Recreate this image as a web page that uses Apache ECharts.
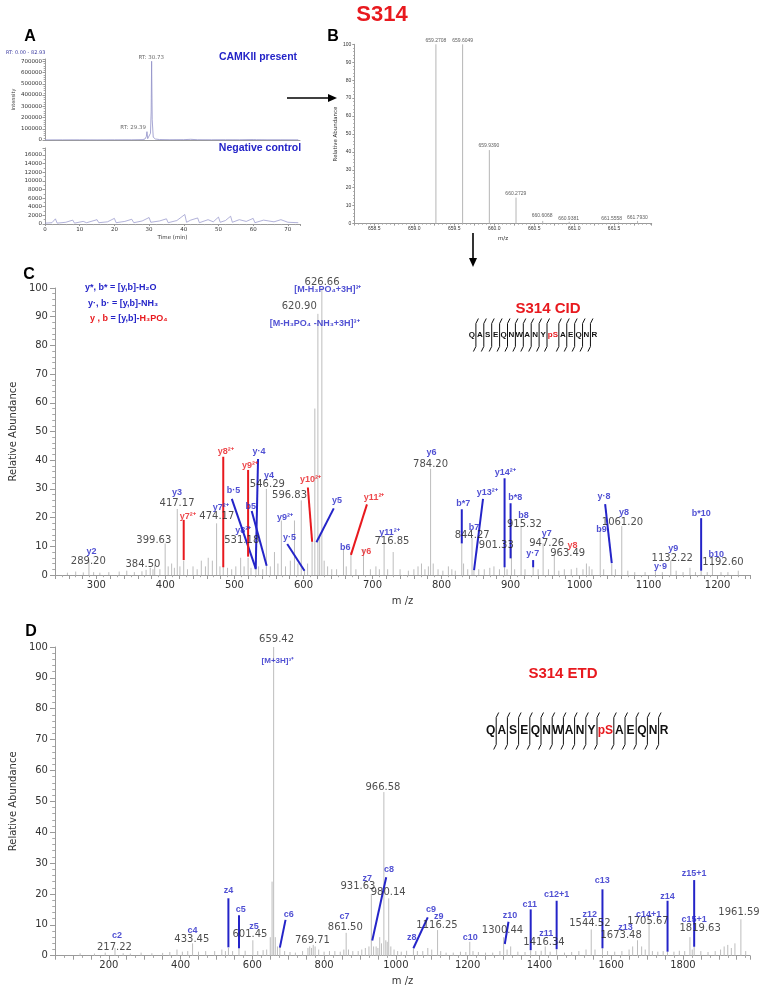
<!DOCTYPE html>
<html><head><meta charset="utf-8">
<script src="https://cdn.jsdelivr.net/npm/echarts@6/dist/echarts.min.js"></script>
<style>html,body{margin:0;padding:0;background:#fff}#c{width:766px;height:988px}</style>
</head><body><div id="c"></div>
<script>
// ---------- DATA ----------
// Panel A: extracted ion chromatograms
const camkTime = [0,5,10,15,20,25,28,28.8,29.2,29.39,29.6,30.0,30.4,30.6,30.73,30.9,31.2,31.8,33,36,40,42,44,48,52,56,60,60.5,61,64,68,73];
const camkInt  = [800,1200,1500,1000,1400,1800,3000,8000,30000,74000,12000,9000,60000,250000,700000,180000,25000,9000,4000,2500,3000,6000,2500,2000,2500,2000,4000,7000,3000,2000,2000,1500];
const negTime = [0,2,3,3.5,6,8,8.5,11,12,15,15.5,18,20,20.5,23,25,25.6,28,30,30.5,33,35,35.5,38,40.3,40.8,42,44,44.5,47,48.5,50,50.5,52,53.5,54,56,58,60,60.5,63,66,68,70,73];
const negInt  = [200,300,1200,200,400,900,200,600,300,1000,300,500,1300,300,600,1100,300,700,1500,400,700,1200,300,800,2200,400,900,1400,300,1000,500,1600,400,800,1800,400,1000,600,1300,300,900,500,1000,400,300];
const rtLabels = [["RT: 30.73",30.6,731000],["RT: 29.39",25.4,109000]];

// Panel B: full MS isotope envelope
const msPeaks = [[658.62,0.3],[658.95,0.3],[659.2708,100],[659.6049,100],[659.939,41],[660.2729,14.5],[660.6068,1.5],[660.9381,1],[661.25,0.3],[661.5558,0.6],[661.793,1.5]];
const msLabels = [["659.2708",659.27,101.8],["659.6049",659.605,101.8],["659.9390",659.934,43.3],["660.2729",660.27,16.5],["660.6068",660.60,4.2],["660.9381",660.93,3.0],["661.5558",661.47,2.7],["661.7930",661.79,3.5]];

// Panel C: CID MS/MS
const cidPeaks = [[258,0.8],[270,1.2],[281,0.9],[289.2,5],[296,1],[305,0.8],[318,1],[333,1.2],[344,1.5],[355,1],[366,1.3],[372,1.8],[378,2.5],[382,2],[384.5,3.5],[392,2],[399.63,11],[404,3],[409,4],[413,2.5],[417.17,23],[421,3],[426.5,5],[432,2],[440,3],[446,2],[452,5],[458,3],[462,6],[468,5],[474.17,18],[479,3],[483.8,3],[490,2.5],[496,2],[502,3],[509,6],[514,3],[519.8,6],[524,2.5],[531.18,10],[535,3],[541,2],[546.29,30],[552,3],[558,8],[563,4],[568,19],[574,3],[581,5],[587,19],[592,4],[596.83,26],[601.5,2],[606,4],[612.5,12],[616.5,58],[620.9,91],[623.5,14],[626.66,100],[630,5],[635,3],[641,2],[648,2],[658,9],[662,3],[668.8,8],[676,2],[687,9],[697,2],[705,3],[710,2],[716.85,11],[722,2],[730,8],[740,2],[752,1.5],[760,2],[766,3],[771,4],[776,2],[781,3],[784.2,37],[788,4],[795,2],[802,1.5],[810,3],[815,2],[820,1.5],[829.4,11],[832,4],[838,2],[844.27,13],[847,2],[854,2],[862,2],[870,2.5],[876,3],[884,2],[891.4,3],[895,2],[901.33,10],[906,2],[915.32,17],[921,2],[932.8,3],[940,2],[947.26,11],[955,2],[963.49,7],[970,1.5],[978,2],[988,2],[996,2.5],[1005,2],[1010,4],[1014,3],[1018,2],[1030,16],[1035,2],[1046.7,4],[1052,2],[1061.2,17],[1070,1.5],[1080,1],[1095,1],[1110,1.5],[1120,1],[1132.22,5],[1140,1.5],[1150,1],[1160,2.5],[1168,1],[1176.2,1.5],[1185,1],[1192.6,4],[1205,1],[1215,1],[1230,1.5]];
const cidMassLabels = [["289.20",288.3,4.6],["384.50",367.4,3.7],["399.63",383.2,12.1],["417.17",416.8,25.0],["474.17",474.5,20.3],["531.18",510.6,11.9],["546.29",547.7,31.6],["596.83",579.8,27.6],["620.90",593.9,93.5],["626.66",627.0,102.0],["716.85",728.2,11.8],["784.20",784.2,38.6],["844.27",844.4,13.7],["901.33",879.4,10.2],["915.32",920.2,17.7],["947.26",952.5,11.0],["963.49",982.8,7.6],["1061.20",1062.2,18.4],["1132.22",1134.3,5.8],["1192.60",1207.8,4.3]];
const cidPrecLabels = [["[M-H₃PO₄+3H]³⁺",635.4,99.3],["[M-H₃PO₄ -NH₃+3H]³⁺",616.2,87.5]];
const cidBlueIons = [["y2",292.8,8.1],["y3",416.8,28.8],["y·4",535.7,43.0],["y4",550.1,34.6],["b·5",498.6,29.3],["y7²⁺",480.3,23.4],["b5",523.6,24.0],["y8²⁺",512.6,15.4],["y9²⁺",573.2,20.0],["y·5",579.8,13.1],["y5",648.6,25.8],["b6",660.6,9.5],["y11²⁺",724.6,14.9],["y6",785.6,42.8],["b*7",831.4,25.0],["y13²⁺",866.4,28.8],["b7",847.2,16.6],["y14²⁺",892.4,35.6],["b*8",906.8,26.9],["b8",918.8,20.6],["y7",952.5,14.5],["y·7",932.3,7.6],["y·8",1035.6,27.3],["b9",1031.9,16.0],["y8",1064.5,21.7],["b*10",1176.5,21.5],["y9",1135.7,9.3],["y·9",1117.4,3.1],["b10",1198.2,7.0]];
const cidRedIons = [["y7²⁺",432.3,20.3],["y8²⁺",487.5,43.2],["y9²⁺",522.7,38.0],["y10²⁺",610.1,33.1],["y11²⁺",702.4,27.1],["y6",690.9,8.1],["y8",990.0,10.1]];
// pointer lines: [mzStart, abStart, mzEnd, abEnd]
const cidBlueLines = [[534.2,40.4,530.8,2.0],[496.2,26.5,530.8,2.3],[525.0,22.3,546.7,3.2],[576.5,10.8,601.5,1.5],[643.9,23.2,618.8,11.4],[829.4,22.9,829.4,11.0],[860.2,26.5,847.2,1.7],[891.4,33.7,891.4,2.7],[900.1,25.0,900.1,5.8],[932.8,5.2,932.8,2.7],[1037.1,24.7,1046.7,4.1],[1176.2,19.8,1176.2,1.5]];
const cidRedLines = [[426.5,19.2,426.5,5.2],[483.8,41.2,483.8,2.7],[519.8,36.6,519.8,6.4],[606.4,30.5,612.6,11.6],[692.0,24.6,668.8,7.0]];

// Panel D: ETD MS/MS
const etdPeaks = [[120,0.8],[160,0.7],[190,1],[217.22,2.5],[240,0.8],[260,0.7],[290,1],[320,0.8],[350,0.9],[370,1.2],[390,2],[405,1.3],[420,1.5],[433.45,4],[450,1.3],[470,1.5],[495,1.5],[515,2],[525,1.5],[533.4,2.5],[545,1.5],[562.8,2.4],[580,1.6],[601.45,5],[615,1.5],[630,1.8],[640,2],[650,6],[655,24],[659.42,100],[664,6],[670,3],[676.7,2.6],[690,1.5],[705,1.2],[720,1],[740,1.5],[755,2.5],[760,3],[765,2.5],[769.71,3.5],[775,3],[785,2],[800,1.3],[815,1.5],[830,1.5],[845,1.3],[855,2],[861.5,7.4],[868,2],[880,1.5],[895,1.5],[905,2],[915,2.5],[925,3],[931.63,20],[938,3],[945,3],[950,2.5],[955,6],[960,4],[966.58,53],[972,5],[976,4.5],[980.14,18.6],[986,3],[995,2],[1005,1.5],[1015,1.3],[1030,1.6],[1049,2.4],[1060,1.5],[1075,1.5],[1089,2.5],[1100,2],[1116.25,8.3],[1125,1.5],[1140,1],[1160,1],[1180,1.3],[1195,1.2],[1206,4.5],[1215,1.5],[1230,1.2],[1250,1],[1270,1],[1290,1.5],[1300.44,6],[1310,2],[1320,3],[1340,1.3],[1360,1.2],[1375.8,1.8],[1390,1.5],[1405,1.6],[1416.34,3],[1430,1.3],[1448,2],[1470,1],[1490,1.2],[1510,1.5],[1530,2],[1544.52,8.5],[1555,2],[1575.8,2.4],[1590,1.5],[1610,1.3],[1630,1.5],[1650,2],[1660,3],[1673.48,5],[1685,3],[1695,2],[1705.67,11.3],[1715,1.5],[1730,1.3],[1745,1.5],[1757,1.3],[1775,1.3],[1790,1.6],[1805,1.5],[1819.63,6],[1826,2],[1831.4,2.9],[1850,1.5],[1870,1.2],[1890,1.5],[1905,2],[1915,3],[1925,3.5],[1935,2.5],[1945,4],[1961.59,11.8],[1975,1.5]];
const etdMassLabels = [["217.22",215.6,2.6],["433.45",431.4,5.3],["601.45",593.3,7.0],["659.42",667.5,102.3],["769.71",767.5,5.1],["861.50",859.2,9.1],["931.63",894.4,22.4],["966.58",963.9,54.4],["980.14",978.6,20.4],["1116.25",1114.7,9.9],["1300.44",1297.2,8.3],["1416.34",1412.8,4.3],["1544.52",1540.6,10.4],["1673.48",1627.8,6.5],["1705.67",1702.8,11.0],["1819.63",1848.1,8.9],["1961.59",1956.4,13.9]];
const etdPrecLabels = [["[M+3H]³⁺",671.1,95.5]];
const etdIons = [["c2",223.1,6.4],["c4",433.3,8.1],["z4",533.3,21.0],["c5",567.5,15.0],["z5",604.4,9.4],["c6",701.7,13.4],["c7",857.2,12.6],["z7",920.3,25.1],["c8",980.6,27.8],["z8",1044.4,6.0],["c9",1098.1,14.8],["z9",1119.4,12.6],["c10",1207.2,5.8],["z10",1318.3,12.9],["c11",1373.1,16.7],["z11",1419.4,7.3],["c12+1",1448.1,19.9],["z12",1540.6,13.2],["c13",1575.0,24.2],["z13",1639.7,9.1],["c14+1",1704.4,13.5],["z14",1757.2,19.3],["z15+1",1831.4,26.7],["c15+1",1831.4,11.6]];
const etdLines = [[533.3,18.6,533.3,2.7],[562.8,13.1,562.8,2.4],[692.5,11.6,676.7,2.6],[973.1,25.4,934.2,4.9],[1088.9,12.4,1048.9,2.4],[1313.9,11.0,1303.6,3.8],[1375.8,15.0,1375.8,1.8],[1448.1,17.8,1448.1,2.1],[1575.8,21.5,1575.8,2.4],[1757.2,17.8,1757.2,1.3],[1831.4,24.5,1831.4,2.9]];

const seqResidues = ["Q","A","S","E","Q","N","W","A","N","Y","pS","A","E","Q","N","R"];

// ---------- STYLE ----------
const BLUE = '#2424c8', RED = '#e8191e', GREY = '#bdbdbd', FONT = '"Liberation Sans", Arial, sans-serif';

function stickSeries(i, data, color, w) {
  return {type:'custom', xAxisIndex:i, yAxisIndex:i, data, silent:true, clip:false,
    renderItem(p, api) {
      const a = api.coord([api.value(0), 0]), b = api.coord([api.value(0), api.value(1)]);
      return {type:'line', shape:{x1:a[0],y1:a[1],x2:b[0],y2:b[1]}, style:{stroke:color, lineWidth:w||1}};
    }};
}
function pointerSeries(i, data, color) {
  return {type:'custom', xAxisIndex:i, yAxisIndex:i, data, silent:true, clip:false,
    encode:{x:[0,2], y:[1,3]},
    renderItem(p, api) {
      const a = api.coord([api.value(0), api.value(1)]), b = api.coord([api.value(2), api.value(3)]);
      return {type:'line', shape:{x1:a[0],y1:a[1],x2:b[0],y2:b[1]}, style:{stroke:color, lineWidth:2}};
    }};
}
function textSeries(i, items, color, size, weight, family) {
  return {type:'scatter', xAxisIndex:i, yAxisIndex:i, symbolSize:0, silent:true, clip:false,
    data: items.map(d => ({name:d[0], value:[d[1], d[2]]})),
    label:{show:true, position:'inside', formatter:'{b}', color, fontSize:size, fontWeight:weight||'normal', fontFamily:family||FONT}};
}
function valAxis(grid, o) {
  const step = o.labelStep;
  return Object.assign({
    type:'value', gridIndex:grid, min:o.min, max:o.max, interval:o.interval,
    axisLine:{show:true, lineStyle:{color:'#9a9a9a', width:1}},
    axisTick:{show:true, length:o.tick||4, lineStyle:{color:'#9a9a9a'}},
    minorTick:{show:!!o.minor, splitNumber:o.minor||2, length:(o.tick||4)*0.55, lineStyle:{color:'#a8a8a8'}},
    splitLine:{show:false},
    axisLabel:{show:o.label!==false, fontSize:o.fs||10, color:'#333', margin:o.margin||6, fontFamily:o.family||'"DejaVu Sans", sans-serif',
      showMinLabel:true, showMaxLabel:true,
      formatter: v => { const r = Math.round(v/step*1000)/1000; return Math.abs(r-Math.round(r))<1e-6 ? (o.fmt ? o.fmt(v) : String(v)) : ''; }},
    name:o.name||'', nameLocation:'middle', nameGap:o.nameGap||20,
    nameTextStyle:{fontSize:o.nfs||10, color:'#333', fontFamily:'"DejaVu Sans", sans-serif'}
  }, o.extra||{});
}

function seqGraphic(x0, yc, slot, fs, h) {
  const els = []; let x = x0;
  seqResidues.forEach((r, i) => {
    const w = r.length > 1 ? slot*1.5 : slot;
    els.push({type:'text', x:x + w/2, y:yc, style:{text:r, fill:r==='pS'?RED:'#111', font:'bold '+fs+'px '+FONT, textAlign:'center', textVerticalAlign:'middle', align:'center', verticalAlign:'middle'}});
    x += w;
    if (i < seqResidues.length-1) {
      els.push({type:'polyline', shape:{points:[[x+2.5,yc-h/2-3],[x,yc-h/2+2],[x,yc+h/2-2],[x-2.5,yc+h/2+3]]}, style:{stroke:'#111', lineWidth:1, fill:null}});
    }
  });
  return els;
}
function txt(x, y, text, font, fill, align) {
  return {type:'text', x, y, style:{text, font, fill, textAlign:align||'center', textVerticalAlign:'middle', align:align||'center', verticalAlign:'middle'}};
}

const chart = echarts.init(document.getElementById('c'), null, {renderer:'canvas'});
const option = {
  animation:false,
  backgroundColor:'#fff',
  grid:[
    {left:45, top:59, width:255, height:81},
    {left:45, top:148, width:255, height:76},
    {left:354.3, top:44.3, width:297.4, height:179.3},
    {left:51.7, top:288, width:698.3, height:287},
    {left:52.7, top:647, width:697.3, height:308.7}
  ],
  xAxis:[
    valAxis(0, {min:0, max:73.5, interval:10, labelStep:10, label:false, tick:0.01}),
    valAxis(1, {min:0, max:73.5, interval:10, labelStep:10, fs:5.5, tick:2, margin:3, minor:5, name:'Time (min)', nameGap:11, nfs:5.5}),
    valAxis(2, {min:658.25, max:661.97, interval:0.25, labelStep:0.5, fs:5, tick:2, margin:3, minor:5, name:'m/z', nameGap:12, nfs:5.5, family:FONT, fmt:v=>v.toFixed(1)}),
    valAxis(3, {min:240, max:1247, interval:20, labelStep:100, fs:10, tick:4, margin:5, minor:2, name:'m /z', nameGap:21, nfs:10}),
    valAxis(4, {min:50, max:1987, interval:50, labelStep:200, fs:10, tick:4, margin:5, minor:2, name:'m /z', nameGap:21, nfs:10})
  ],
  yAxis:[
    valAxis(0, {min:0, max:720000, interval:100000, labelStep:100000, fs:5.5, tick:2.5, margin:3, minor:5, name:'Intensity', nameGap:29, nfs:5}),
    valAxis(1, {min:0, max:17600, interval:2000, labelStep:2000, fs:5.5, tick:2.5, margin:3, minor:2}),
    valAxis(2, {min:0, max:100, interval:10, labelStep:10, fs:5, tick:2, margin:3, minor:5, name:'Relative Abundance', nameGap:13, nfs:5.5, family:FONT}),
    valAxis(3, {min:0, max:100, interval:10, labelStep:10, fs:10, tick:5, margin:7, minor:5, name:'Relative Abundance', nameGap:31, nfs:10}),
    valAxis(4, {min:0, max:100, interval:10, labelStep:10, fs:10, tick:5, margin:7, minor:5, name:'Relative Abundance', nameGap:32, nfs:10})
  ],
  series:[
    {type:'line', xAxisIndex:0, yAxisIndex:0, data:camkTime.map((t,i)=>[t,camkInt[i]]), symbol:'none', lineStyle:{color:'#9090c8', width:0.8}, silent:true},
    {type:'line', xAxisIndex:1, yAxisIndex:1, data:negTime.map((t,i)=>[t,negInt[i]]), symbol:'none', lineStyle:{color:'#9090c8', width:0.7}, silent:true},
    textSeries(0, rtLabels, '#444', 5.5, 'normal', '"DejaVu Sans", sans-serif'),
    stickSeries(2, msPeaks, '#b5b5b5', 1),
    textSeries(2, msLabels, '#333', 5, 'normal'),
    stickSeries(3, cidPeaks, GREY, 1),
    stickSeries(4, etdPeaks, GREY, 1),
    textSeries(3, cidMassLabels, '#222', 10, 'normal', '"DejaVu Sans", sans-serif'),
    textSeries(4, etdMassLabels, '#222', 10, 'normal', '"DejaVu Sans", sans-serif'),
    textSeries(3, cidPrecLabels, BLUE, 9, 'bold'),
    textSeries(4, etdPrecLabels, BLUE, 8, 'bold'),
    pointerSeries(3, cidBlueLines, BLUE),
    pointerSeries(3, cidRedLines, RED),
    pointerSeries(4, etdLines, BLUE),
    textSeries(3, cidBlueIons, BLUE, 9, 'bold'),
    textSeries(3, cidRedIons, RED, 9, 'bold'),
    textSeries(4, etdIons, BLUE, 9, 'bold')
  ],
  graphic:{elements:[
    txt(382, 15, 'S314', 'bold 22px '+FONT, RED),
    txt(30, 37, 'A', 'bold 16px '+FONT, '#000'),
    txt(333, 37, 'B', 'bold 16px '+FONT, '#000'),
    txt(29, 275, 'C', 'bold 16px '+FONT, '#000'),
    txt(31, 632, 'D', 'bold 16px '+FONT, '#000'),
    txt(6, 52.5, 'RT: 0.00 - 82.93', '5px "DejaVu Sans", sans-serif', '#3a3aa0', 'left'),
    txt(258, 57.5, 'CAMKII present', 'bold 10.5px '+FONT, BLUE),
    txt(260, 148, 'Negative control', 'bold 10.5px '+FONT, BLUE),
    txt(85, 287.5, 'y*, b* = [y,b]-H₂O', 'bold 9px '+FONT, BLUE, 'left'),
    txt(88, 303.5, 'y·, b· = [y,b]-NH₃', 'bold 9px '+FONT, BLUE, 'left'),
    {type:'text', x:90, y:319, style:{text:'{r|y , b} {b|= [y,b]-}{r|H₃PO₄}', font:'bold 9px '+FONT, textVerticalAlign:'middle', verticalAlign:'middle',
      rich:{r:{fill:RED, color:RED, font:'bold 9px '+FONT}, b:{fill:BLUE, color:BLUE, font:'bold 9px '+FONT}}}},
    txt(548, 309, 'S314 CID', 'bold 15px '+FONT, RED),
    txt(563, 674, 'S314 ETD', 'bold 15px '+FONT, RED),
    {type:'group', children:seqGraphic(468, 335, 7.9, 8, 27)},
    {type:'group', children:seqGraphic(485, 731, 11.2, 12, 31)},
    {type:'line', shape:{x1:287, y1:98, x2:330, y2:98}, style:{stroke:'#000', lineWidth:1.6}},
    {type:'polygon', shape:{points:[[337,98],[328,94],[328,102]]}, style:{fill:'#000'}},
    {type:'line', shape:{x1:473, y1:233, x2:473, y2:260}, style:{stroke:'#000', lineWidth:1.6}},
    {type:'polygon', shape:{points:[[473,267],[469,258],[477,258]]}, style:{fill:'#000'}}
  ]}
};
chart.setOption(option);
</script></body></html>
